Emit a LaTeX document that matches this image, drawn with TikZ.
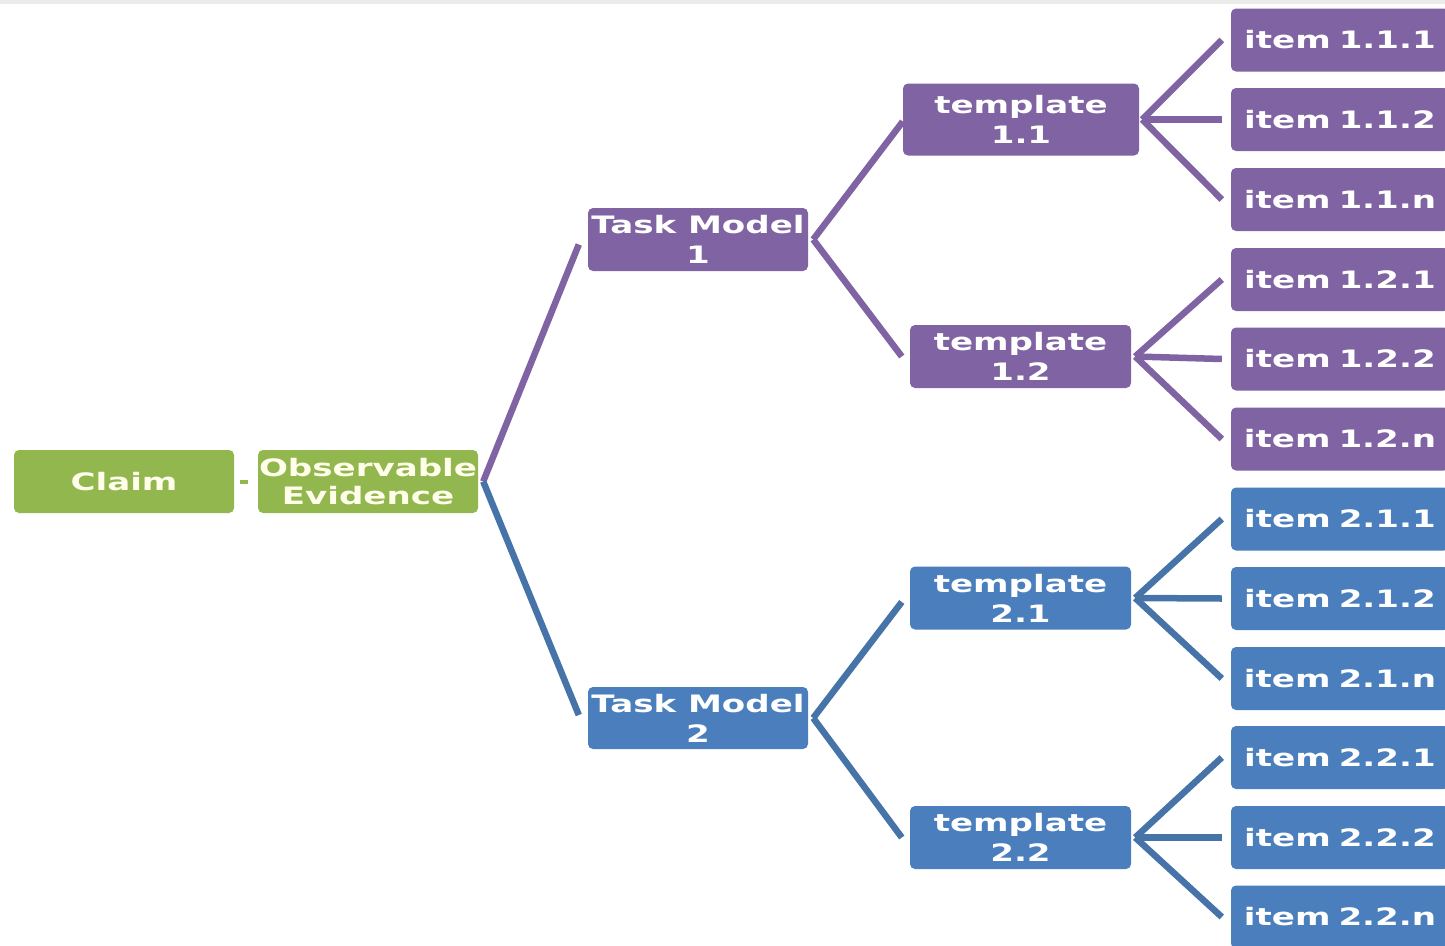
\documentclass[tikz,border=0pt]{standalone}
\usepackage{fontspec}
\newfontfamily\dfont[FakeStretch=1.42]{DejaVu Sans}
\usetikzlibrary{calc}
\definecolor{pgreen}{HTML}{92B74E}
\definecolor{ppurple}{HTML}{7F63A2}
\definecolor{pblue}{HTML}{4A7EBC}
\definecolor{lblue}{HTML}{4674A8}
\definecolor{topgray}{HTML}{EBEBEB}
\begin{document}
\begin{tikzpicture}[x=1pt,y=-1pt,
  box/.style={rectangle, rounded corners=5pt, inner sep=0pt, align=center,
    font=\dfont\bfseries\fontsize{24}{30}\selectfont, minimum height=63pt},
  gbox/.style={box, fill=pgreen, text=white!92!yellow, minimum width=220pt},
  pbox/.style={box, fill=ppurple, text=white},
  bbox/.style={box, fill=pblue, text=white},
  itembox/.style={minimum width=218pt, text width=218pt},
  pline/.style={draw=ppurple, line width=6.5pt},
  bline/.style={draw=lblue, line width=6.5pt},
  gline/.style={draw=pgreen, line width=4pt}]
\useasboundingbox (0,0) rectangle (1445,945);
\clip (0,0) rectangle (1445,945);
\fill[topgray] (0,0) rectangle (1445,4);

% level 0
\node[gbox] (claim) at (124,481.5) {Claim};
\node[gbox] (oe) at (368,481.5) {Observable\\[-2pt]Evidence};
% task models
\node[pbox, minimum width=220pt] (tm1) at (698,239.5) {Task Model\\1};
\node[bbox, minimum width=220pt, minimum height=62pt] (tm2) at (698,718) {Task Model\\2};
% templates
\node[pbox, minimum width=236pt, minimum height=72pt] (t11) at (1021,119.5) {template\\1.1};
\node[pbox, minimum width=221pt] (t12) at (1020.5,356.5) {template\\1.2};
\node[bbox, minimum width=221pt] (t21) at (1020.5,598) {template\\2.1};
\node[bbox, minimum width=221pt] (t22) at (1020.5,837.5) {template\\2.2};
% items
\node[pbox, itembox] (i111) at (1340,40) {item 1.1.1};
\node[pbox, itembox] (i112) at (1340,119.5) {item 1.1.2};
\node[pbox, itembox] (i11n) at (1340,199.5) {item 1.1.n};
\node[pbox, itembox] (i121) at (1340,279.5) {item 1.2.1};
\node[pbox, itembox] (i122) at (1340,359) {item 1.2.2};
\node[pbox, itembox] (i12n) at (1340,439) {item 1.2.n};
\node[bbox, itembox] (i211) at (1340,519) {item 2.1.1};
\node[bbox, itembox] (i212) at (1340,598.5) {item 2.1.2};
\node[bbox, itembox] (i21n) at (1340,678.5) {item 2.1.n};
\node[bbox, itembox] (i221) at (1340,757.5) {item 2.2.1};
\node[bbox, itembox] (i222) at (1340,837.5) {item 2.2.2};
\node[bbox, itembox] (i22n) at (1340,917) {item 2.2.n};

% connectors
\draw[gline] ($(claim.east)+(6,0)$) -- ($(oe.west)+(-10,0)$);
\coordinate (v0) at ($(oe.east)+(5,0)$);
\draw[pline] (v0) -- ($(tm1.west)+(-9,5)$);
\draw[bline] (v0) -- ($(tm2.west)+(-9,-3)$);

\coordinate (v1) at ($(tm1.east)+(5,0)$);
\draw[pline] (v1) -- ($(t11.west)+(0,2)$);
\draw[pline] (v1) -- ($(t12.west)+(-8,0)$);
\coordinate (v2) at ($(tm2.east)+(5,0)$);
\draw[bline] (v2) -- ($(t21.west)+(-8,4)$);
\draw[bline] (v2) -- ($(t22.west)+(-8,0)$);

\coordinate (v11) at ($(t11.east)+(3,0)$);
\foreach \c in {i111,i112,i11n} \draw[pline] (v11) -- ($(\c.west)+(-9,0)$);
\coordinate (v12) at ($(t12.east)+(4,0)$);
\foreach \c in {i121,i122,i12n} \draw[pline] (v12) -- ($(\c.west)+(-9,0)$);
\coordinate (v21) at ($(t21.east)+(4,0)$);
\foreach \c in {i211,i212,i21n} \draw[bline] (v21) -- ($(\c.west)+(-9,0)$);
\coordinate (v22) at ($(t22.east)+(4,0)$);
\foreach \c in {i221,i222,i22n} \draw[bline] (v22) -- ($(\c.west)+(-9,0)$);
\end{tikzpicture}
\end{document}
